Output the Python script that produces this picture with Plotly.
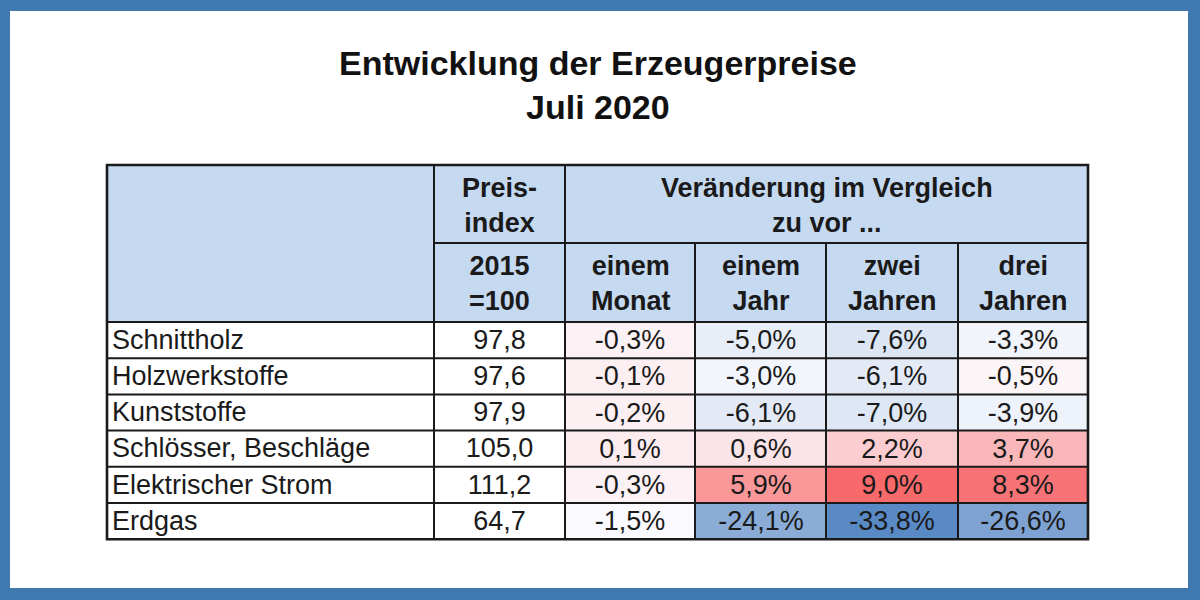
import numpy as np
import plotly.graph_objects as go

# --- data -------------------------------------------------------------
TITLE_LINES = ["Entwicklung der Erzeugerpreise", "Juli 2020"]

products = [
    "Schnittholz",
    "Holzwerkstoffe",
    "Kunststoffe",
    "Schlösser, Beschläge",
    "Elektrischer Strom",
    "Erdgas",
]
price_index = [97.8, 97.6, 97.9, 105.0, 111.2, 64.7]

change_month = [-0.3, -0.1, -0.2, 0.1, -0.3, -1.5]
change_1y = [-5.0, -3.0, -6.1, 0.6, 5.9, -24.1]
change_2y = [-7.6, -6.1, -7.0, 2.2, 9.0, -33.8]
change_3y = [-3.3, -0.5, -3.9, 3.7, 8.3, -26.6]

change_headers = ["einem<br>Monat", "einem<br>Jahr", "zwei<br>Jahren", "drei<br>Jahren"]
index_header_top = "Preis-<br>index"
index_header_bottom = "2015<br>=100"
group_header = "Veränderung im Vergleich<br>zu vor ..."

# --- layout geometry (pixels of the 1200x600 page) ----------------------
COL_EDGES = [107, 434, 565, 695, 826, 958, 1088]
HEAD_TOP, HEAD_MID, HEAD_BOTTOM = 165, 243, 322
ROW_H = 36.2
TEXT_NUDGE = 2  # scatter text sits a touch higher than heatmap text

BORDER = "#4079b0"
HEADER_FILL = "#c5d9f1"
LINE = "#1a1a1a"
FONT = "Liberation Sans, Arial, sans-serif"
CELL_SIZE = 27
HEAD_SIZE = 27


def de_num(v, pct=False):
    s = f"{v:.1f}".replace(".", ",")
    return s + "%" if pct else s


row_edges = [HEAD_BOTTOM + i * ROW_H for i in range(len(products) + 1)]
row_mid = [(a + b) / 2 for a, b in zip(row_edges[:-1], row_edges[1:])]
col_mid = [(a + b) / 2 for a, b in zip(COL_EDGES[:-1], COL_EDGES[1:])]
text_y = [y + TEXT_NUDGE for y in row_mid]

z = np.array([change_month, change_1y, change_2y, change_3y]).T
text = [[de_num(v, pct=True) for v in row] for row in z]

# Excel style 3-colour scale: blue (min) - white (median) - red (max)
zmin, zmax, zmed = z.min(), z.max(), np.median(z)
mid = (zmed - zmin) / (zmax - zmin)

fig = go.Figure()

fig.add_trace(go.Heatmap(
    z=z, x=COL_EDGES[2:], y=row_edges, text=text,
    texttemplate="%{text}", textfont=dict(family=FONT, size=CELL_SIZE, color="#1a1a1a"),
    colorscale=[[0, "#5a8ac6"], [mid, "#fcfcff"], [1, "#f8696b"]],
    zmin=zmin, zmax=zmax, showscale=False, hoverinfo="skip",
))

fig.add_trace(go.Scatter(
    x=[COL_EDGES[0] + 5] * len(products), y=text_y, text=products,
    mode="text", textposition="middle right",
    textfont=dict(family=FONT, size=CELL_SIZE, color="#1a1a1a"), hoverinfo="skip",
))
fig.add_trace(go.Scatter(
    x=[col_mid[1]] * len(products), y=text_y,
    text=[de_num(v) for v in price_index],
    mode="text", textposition="middle center",
    textfont=dict(family=FONT, size=CELL_SIZE, color="#1a1a1a"), hoverinfo="skip",
))

shapes = []
# header background
shapes.append(dict(type="rect", x0=COL_EDGES[0], x1=COL_EDGES[-1], y0=HEAD_TOP, y1=HEAD_BOTTOM,
                   fillcolor=HEADER_FILL, line_width=0, layer="below"))
line = dict(color=LINE, width=2)
# horizontal rules
for y in row_edges[1:-1]:
    shapes.append(dict(type="line", x0=COL_EDGES[0], x1=COL_EDGES[-1], y0=y, y1=y, line=line))
shapes.append(dict(type="line", x0=COL_EDGES[0], x1=COL_EDGES[-1], y0=HEAD_BOTTOM, y1=HEAD_BOTTOM, line=line))
shapes.append(dict(type="line", x0=COL_EDGES[1], x1=COL_EDGES[-1], y0=HEAD_MID, y1=HEAD_MID, line=line))
# vertical rules
for x in COL_EDGES[1:3]:
    shapes.append(dict(type="line", x0=x, x1=x, y0=HEAD_TOP, y1=row_edges[-1], line=line))
for x in COL_EDGES[3:-1]:
    shapes.append(dict(type="line", x0=x, x1=x, y0=HEAD_MID, y1=row_edges[-1], line=line))
# outer frame
shapes.append(dict(type="rect", x0=COL_EDGES[0], x1=COL_EDGES[-1], y0=HEAD_TOP, y1=row_edges[-1],
                   line=dict(color=LINE, width=2.6)))

head_font = dict(family=FONT, size=HEAD_SIZE, color="#1a1a1a")
annotations = [
    dict(x=598, y=85, text="<b>" + "<br>".join(TITLE_LINES) + "</b>", showarrow=False,
         font=dict(family=FONT, size=34, color="#111111"), align="center"),
    dict(x=col_mid[1], y=(HEAD_TOP + HEAD_MID) / 2 + 1, text="<b>" + index_header_top + "</b>",
         showarrow=False, font=head_font, align="center"),
    dict(x=col_mid[1], y=(HEAD_MID + HEAD_BOTTOM) / 2 + 1, text="<b>" + index_header_bottom + "</b>",
         showarrow=False, font=head_font, align="center"),
    dict(x=(COL_EDGES[2] + COL_EDGES[-1]) / 2, y=(HEAD_TOP + HEAD_MID) / 2 + 1,
         text="<b>" + group_header + "</b>", showarrow=False, font=head_font, align="center"),
]
for cx, label in zip(col_mid[2:], change_headers):
    annotations.append(dict(x=cx, y=(HEAD_MID + HEAD_BOTTOM) / 2 + 1, text="<b>" + label + "</b>",
                            showarrow=False, font=head_font, align="center"))

fig.update_layout(
    width=1200, height=600,
    margin=dict(l=10, r=12, t=11, b=12),
    paper_bgcolor=BORDER, plot_bgcolor="white",
    xaxis=dict(range=[10, 1188], visible=False, fixedrange=True),
    yaxis=dict(range=[588, 11], visible=False, fixedrange=True),
    showlegend=False,
    shapes=shapes,
    annotations=annotations,
)

fig.write_html("out.html", config={"displayModeBar": False},
               post_script="document.body.style.margin='0';")
